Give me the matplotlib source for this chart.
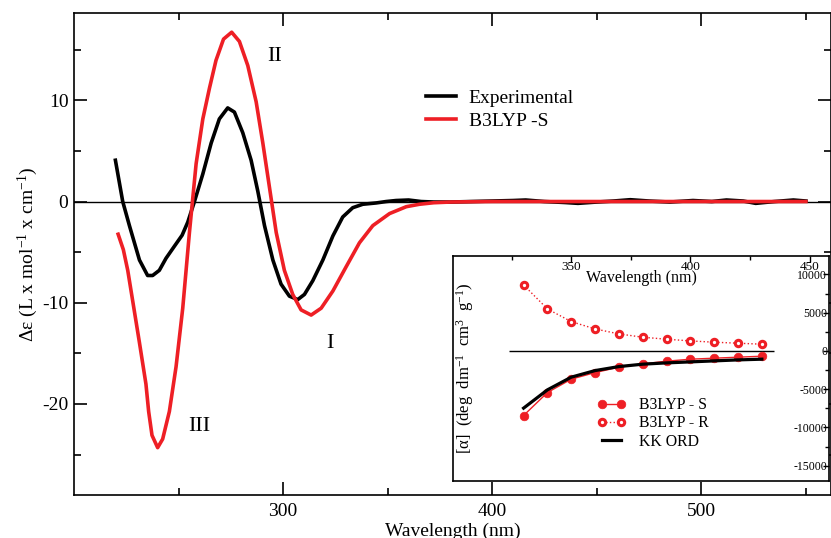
import matplotlib
matplotlib.use('Agg')
import matplotlib.pyplot as plt

plt.rcParams['font.family'] = ['Liberation Serif', 'DejaVu Serif']
plt.rcParams['mathtext.fontset'] = 'custom'
plt.rcParams['mathtext.rm'] = 'Liberation Serif'
plt.rcParams['mathtext.it'] = 'Liberation Serif:italic'
plt.rcParams['axes.unicode_minus'] = False

# ---------------- data: main CD spectrum ----------------
exp_wl = [219.8, 223.3, 226.5, 231.3, 235.2, 237.6, 240.8, 244.0, 248.0, 251.7, 254.4,
          257.6, 261.6, 265.6, 269.5, 273.5, 276.7, 280.7, 284.7, 287.9, 291.1, 295.1,
          299.0, 303.0, 307.0, 310.2, 314.2, 319.0, 323.8, 328.5, 333.3, 338.1, 344.5,
          349.3, 354, 360, 366, 372, 380, 390, 400, 410, 416, 425, 435, 441, 450, 458,
          466, 475, 485, 496, 505, 512, 520, 526, 535, 544, 550]
exp_de = [4.08, 0.0, -2.38, -5.78, -7.31, -7.31, -6.80, -5.61, -4.42, -3.33, -2.04,
          0.0, 2.72, 5.78, 8.16, 9.25, 8.84, 6.80, 4.08, 1.02, -2.38, -5.78,
          -8.16, -9.35, -9.69, -9.18, -7.82, -5.78, -3.40, -1.53, -0.61, -0.27, -0.14,
          0.0, 0.1, 0.15, 0.0, -0.05, -0.05, 0.0, 0.05, 0.1, 0.15, 0.0, -0.1, -0.18, -0.05, 0.05,
          0.18, 0.05, -0.05, 0.1, 0.0, 0.15, 0.05, -0.18, 0.0, 0.15, 0.05]

calc_wl = [221.1, 223.6, 225.7, 228.1, 231.3, 234.4, 235.7, 237.3, 240.0, 242.4, 245.6,
           248.8, 252.0, 255.2, 258.4, 261.6, 264.8, 267.9, 271.5, 275.4, 279.1, 283.1,
           287.1, 290.3, 293.5, 296.7, 300.6, 304.6, 308.6, 313.4, 318.2, 323.8, 330.1,
           336.5, 342.9, 350.9, 358.9, 365.2, 372, 380, 390, 400, 450, 500, 550]
calc_de = [-3.23, -4.76, -6.80, -9.86, -13.95, -18.03, -20.75, -23.1, -24.32, -23.47, -20.75,
           -16.33, -10.54, -3.06, 3.74, 8.16, 11.22, 13.95, 16.05, 16.73, 15.82, 13.44,
           9.86, 5.78, 1.36, -3.06, -6.80, -9.18, -10.71, -11.22, -10.54, -8.84, -6.46,
           -4.08, -2.38, -1.19, -0.51, -0.27, -0.12, -0.05, -0.02, 0.0, 0.0, 0.0, 0.0]

band_labels = ['I', 'II', 'III']
band_wl = [322.2, 296.0, 260.0]
band_de = [-14.0, 14.3, -22.2]

# ---------------- data: inset ORD ----------------
ord_wl = [330, 340, 350, 360, 370, 380, 390, 400, 410, 420, 430]
ord_S = [-8443, -5442, -3693, -2832, -2127, -1697, -1344, -1083, -953, -822, -692]
ord_R = [8616, 5483, 3825, 2872, 2219, 1788, 1527, 1305, 1136, 1005, 875]
kk_wl = [330, 340, 350, 360, 370, 380, 390, 400, 410, 420, 430]
kk_ord = [-7478, -5090, -3432, -2571, -2049, -1736, -1566, -1436, -1305, -1175, -1083]
inset_zero_span = (324, 435)

RED = '#ee1f25'
W, H = 831, 538

fig = plt.figure(figsize=(W / 100, H / 100), dpi=100)

# ---------------- main axes ----------------
ax = fig.add_axes([74 / W, 1 - 495 / H, (W - 74) / W, (495 - 13.3) / H])
ax.plot(exp_wl, exp_de, color='black', lw=2.6, label='Experimental', solid_joinstyle='round')
ax.plot(calc_wl, calc_de, color=RED, lw=2.6, label='B3LYP -S', solid_joinstyle='round')
ax.axhline(0, color='black', lw=1.0, zorder=1)
ax.set_xlim(200, 562)
ax.set_ylim(-29, 18.6)
ax.set_xticks([300, 400, 500])
ax.set_xticks([250, 350, 450, 550], minor=True)
ax.set_yticks([-20, -10, 0, 10])
ax.set_yticks([-25, -15, -5, 5, 15], minor=True)
ax.tick_params(which='both', direction='in', top=True, right=True, labelsize=14, width=1.2)
ax.tick_params(axis='x', which='both', pad=6)
ax.tick_params(axis='y', which='both', pad=4)
ax.tick_params(which='major', length=9.5)
ax.tick_params(which='minor', length=5)
for s in ax.spines.values():
    s.set_linewidth(1.2)
ax.set_xlabel('Wavelength (nm)', fontsize=14, labelpad=2)
ax.set_ylabel('Δε (L x mol$^{-1}$ x cm$^{-1}$)', fontsize=14)
ax.yaxis.set_label_coords(-0.061, 0.5)
ax.yaxis.label.set_va('center')

for lab, x, y in zip(band_labels, band_wl, band_de):
    ax.text(x, y, lab, fontsize=16, ha='center', va='center')

leg = ax.legend(loc='upper left', bbox_to_anchor=(426 / W, 1 - 89 / H),
                bbox_transform=fig.transFigure, frameon=False, fontsize=14,
                handlelength=1.55, handletextpad=0.65, labelspacing=0.3,
                borderpad=0, borderaxespad=0)
for l in leg.get_lines():
    l.set_linewidth(2.6)

# ---------------- inset axes ----------------
IN_T, IN_B = 256, 481
ax2 = fig.add_axes([453.3 / W, 1 - IN_B / H, (829.3 - 453.3) / W, (IN_B - IN_T) / H])
ax2.set_facecolor('white')
ax2.hlines(0, *inset_zero_span, color='black', lw=1.0, zorder=1)
ax2.plot(ord_wl, ord_R, color=RED, lw=1.0, ls=':', marker='o', ms=4.6,
         mfc='white', mec=RED, mew=2.2, label='B3LYP - R', zorder=3)
ax2.plot(ord_wl, ord_S, color=RED, lw=1.0, ls='-', marker='o', ms=6.2,
         mfc=RED, mec=RED, mew=0.5, label='B3LYP - S', zorder=3)
ax2.plot(kk_wl, kk_ord, color='black', lw=2.3, label='KK ORD', zorder=4)
ax2.set_xlim(300.5, 458.3)
ax2.set_ylim(-17000, 12400)
ax2.set_xticks([350, 400, 450])
ax2.set_xticks([325, 375, 425], minor=True)
ax2.set_yticks([-15000, -10000, -5000, 0, 5000, 10000])
ax2.set_yticks([-12500, -7500, -2500, 2500, 7500], minor=True)
ax2.xaxis.tick_top()
ax2.yaxis.tick_right()
ax2.tick_params(axis='x', which='both', direction='in', top=True, bottom=False,
                labeltop=True, labelbottom=False, labelsize=9.5, pad=-12, width=1.0)
ax2.tick_params(axis='y', which='both', direction='in', right=True, left=False,
                labelright=True, labelleft=False, labelsize=8.5, pad=-1.5, width=1.0)
ax2.tick_params(which='major', length=4)
ax2.tick_params(which='minor', length=3)
for lab in ax2.get_yticklabels():
    lab.set_horizontalalignment('right')
for s in ax2.spines.values():
    s.set_linewidth(1.2)

ax2.set_xlabel('Wavelength (nm)', fontsize=11.5)
ax2.xaxis.set_label_position('top')
ax2.xaxis.set_label_coords(0.5, (IN_B - 278) / (IN_B - IN_T))
ax2.xaxis.label.set_va('center')
ax2.set_ylabel('[α]  (deg  dm$^{-1}$  cm$^{3}$  g$^{-1}$)', fontsize=12)
ax2.yaxis.set_label_position('left')
ax2.yaxis.set_label_coords(0.031, (IN_B - 368) / (IN_B - IN_T))
ax2.yaxis.label.set_va('center')

h, l = ax2.get_legend_handles_labels()
order = [1, 0, 2]
ax2.legend([h[i] for i in order], [l[i] for i in order], loc='upper left',
           bbox_to_anchor=(597 / W, 1 - 397 / H), bbox_transform=fig.transFigure,
           frameon=False, fontsize=11.3, numpoints=2, handlelength=1.85,
           handletextpad=0.8, labelspacing=0.15, borderpad=0, borderaxespad=0)

fig.savefig('out.png', dpi=100)
